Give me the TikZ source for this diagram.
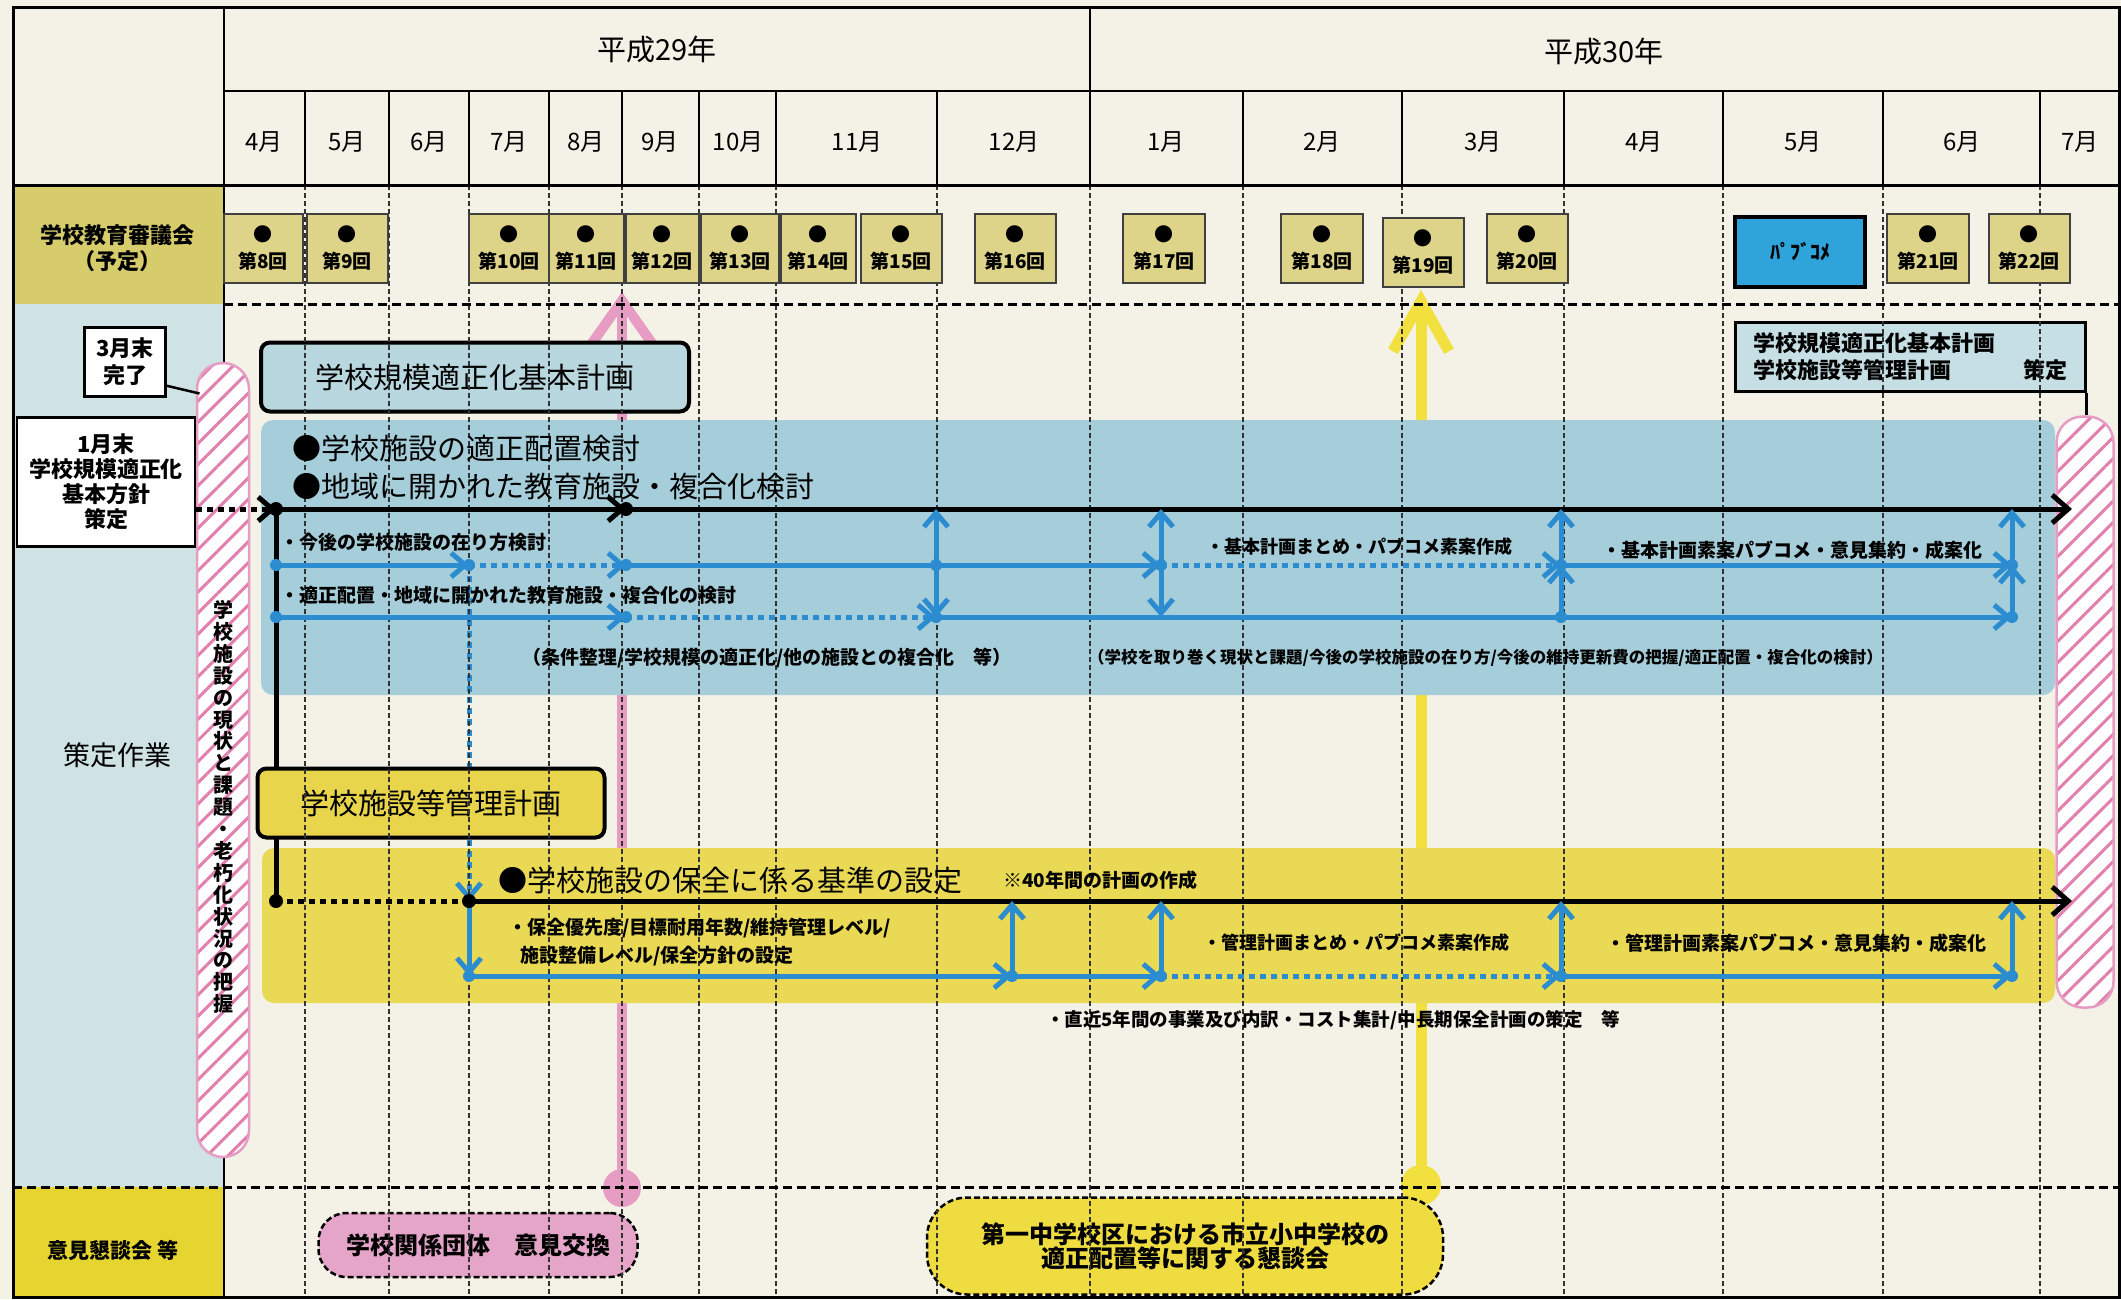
\documentclass[tikz,border=0pt]{standalone}
\usepackage{fontspec}
\setmainfont{Noto Sans CJK JP}
\usepackage{xcolor}
\usetikzlibrary{arrows.meta,patterns.meta}

\definecolor{paper}{HTML}{F4F2E6}
\definecolor{colblue}{HTML}{CFE3E4}
\definecolor{khaki}{HTML}{D7CC6B}
\definecolor{khakibox}{HTML}{DDD489}
\definecolor{bandblue}{HTML}{A6CEDA}
\definecolor{planblue}{HTML}{B8D7DF}
\definecolor{finalblue}{HTML}{C5DFE4}
\definecolor{bandyellow}{HTML}{EAD955}
\definecolor{boxyellow}{HTML}{E8D54C}
\definecolor{cellyellow}{HTML}{E6D530}
\definecolor{meetyellow}{HTML}{EEDC40}
\definecolor{lineblue}{HTML}{2B8CCF}
\definecolor{linepink}{HTML}{E79DC3}
\definecolor{hatchpink}{HTML}{E27FAE}
\definecolor{boxpink}{HTML}{E5A5C9}
\definecolor{lineyellow}{HTML}{F1E03E}
\definecolor{pubblue}{HTML}{2EA4DB}

\newcommand{\fsz}[1]{\fontsize{#1}{#1}\selectfont}

\begin{document}
\begin{tikzpicture}[x=1pt,y=-1pt,
  month/.style={font=\fsz{24}},
  meet/.style={draw=black!75,line width=2pt,fill=khakibox,minimum height=69pt,inner sep=0pt,align=center,font=\bfseries\fontsize{19}{27}\selectfont},
  plan/.style={draw,line width=4pt,rounded corners=9pt,minimum height=69pt,font=\fsz{29}},
  memo/.style={draw,line width=2.5pt,fill=white,align=center,inner sep=0pt},
  talk/.style={draw,line width=2.5pt,dash pattern=on 6pt off 3pt,rounded corners=28pt,inner sep=0pt,align=center,font=\bfseries\fsz{24}},
  hatch/.style={draw=linepink,line width=2.5pt,rounded corners=26pt,inner sep=0pt,preaction={fill=white},pattern={Lines[angle=45,distance=15pt,line width=3pt]},pattern color=hatchpink},
  task/.style={anchor=west,inner sep=0pt,font=\bfseries\fsz{19}},
  goal/.style={anchor=west,inner sep=0pt,font=\fsz{29}},
  blk/.style={line width=5pt,black},
  blu/.style={line width=5pt,lineblue},
  dotseg/.style={dash pattern=on 6pt off 5pt},
  barb/.style={-{Straight Barb[length=14pt,width=24pt]}},
  endbarb/.style={-{Straight Barb[length=16pt,width=28pt]}},
  gridline/.style={line width=1.2pt,black!80,dash pattern=on 5pt off 3pt},
  rowline/.style={line width=3pt,dash pattern=on 9pt off 5pt}
]
\useasboundingbox (0,0) rectangle (2121,1299);
\fill[paper] (0,0) rectangle (2121,1299);
\fill[khaki] (13,185) rectangle (224,304);
\fill[colblue] (13,304) rectangle (224,1187);
\fill[cellyellow] (13,1187) rectangle (224,1297);
\draw[line width=2.5pt] (224,7) -- (224,1297);

\coordinate (pinktop) at (622,292);
\coordinate (pinkfoot) at (622,1188);
\coordinate (yeltop) at (1421,290);
\coordinate (yelfoot) at (1421,1185);
\draw[linepink,line width=10pt,-{Straight Barb[length=44pt,width=62pt]}] (pinkfoot) -- (pinktop);
\fill[linepink] (pinkfoot) circle (19pt);
\draw[lineyellow,line width=11pt,-{Straight Barb[length=50pt,width=56pt]}] (yelfoot) -- (yeltop);
\fill[lineyellow] (yelfoot) circle (20pt);

\fill[bandblue,rounded corners=12pt] (261,420) rectangle (2055,695);
\fill[bandyellow,rounded corners=12pt] (262,848) rectangle (2055,1003);

\foreach \i/\x in {0/276,1/469,2/626,3/936,4/1161,5/1561,6/2012,7/1012}{
  \coordinate (K\i) at (\x,509);
  \coordinate (A\i) at (\x,565);
  \coordinate (B\i) at (\x,617);
  \coordinate (M\i) at (\x,901);
  \coordinate (C\i) at (\x,976);
}
\coordinate (Kend) at (2072,509);
\coordinate (Mend) at (2072,901);

\draw[blk] (K0) -- (M0);
\draw[blu,dotseg,barb] (A1) -- (M1);

\node[plan,fill=planblue,minimum width=428pt] (basic) at (475,377) {学校規模適正化基本計画};
\node[plan,fill=boxyellow,minimum width=347pt] (facility) at (431,803) {学校施設等管理計画};
\node[draw,line width=3pt,fill=finalblue,text width=314pt,inner xsep=18pt,minimum height=69pt,align=left,font=\bfseries\fontsize{22}{27}\selectfont] (final) at (1910,357) {学校規模適正化基本計画\\学校施設等管理計画\hfill 策定};
\node[talk,fill=boxpink,minimum width=319pt,minimum height=64pt] (union) at (478,1245) {学校関係団体　意見交換};
\node[talk,fill=meetyellow,minimum width=516pt,minimum height=97pt,rounded corners=40pt,font=\bfseries\fontsize{24}{23}\selectfont] (forum) at (1185,1246) {第一中学校区における市立小中学校の\\適正配置等に関する懇談会};

\foreach \x in {305,389,469,549,622,699,776,937,1090,1243,1402,1564,1723,1883,2040}{
  \draw[line width=2pt] (\x,91) -- (\x,185);
  \draw[gridline] (\x,185) -- (\x,1297);
}
\draw[line width=2.5pt] (1090,7) -- (1090,91);
\draw[line width=2.5pt] (224,91) -- (2119,91);
\draw[line width=3pt] (13,185) -- (2119,185);
\draw[rowline] (224,304) -- (2119,304);
\draw[rowline] (13,1187) -- (2119,1187);
\draw[line width=3pt] (13,7) rectangle (2119,1297);

\node[font=\fsz{29}] (y29) at (657,50) {平成29年};
\node[font=\fsz{29}] (y30) at (1604,52) {平成30年};
\foreach \x/\m in {264/4,347/5,429/6,509/7,586/8,660/9,738/10,857/11,1014/12,1166/1,1322/2,1483/3,1644/4,1803/5,1962/6,2080/7}
  \node[month] (m\x) at (\x,142) {{\m}月};

\node[align=center,font=\bfseries\fontsize{22}{26}\selectfont] (board) at (117,248) {学校教育審議会\\（予定）};
\foreach \n/\x/\w in {8/263/79,9/347/81,10/509/80,11/586/75,12/662/73,13/740/78,14/818/75,15/901/81,16/1015/81,17/1164/82,18/1322/82,20/1527/81,21/1928/82,22/2029/81}
  \node[meet,minimum width=\w pt] (s\n) at (\x,248) {●\\第{\n}回};
\node[meet,minimum width=81pt] (s19) at (1423,252) {●\\第19回};
\node[meet,fill=pubblue,line width=4pt,draw=black,minimum width=130pt,minimum height=70pt,font=\bfseries\fsz{20}] (pub) at (1800,252) {ﾊﾟﾌﾞｺﾒ};

\node[font=\fsz{27}] (work) at (117,755) {策定作業};
\node[font=\bfseries\fsz{21}] (opinion) at (113,1250) {意見懇談会 等};

\node[hatch,minimum width=52pt,minimum height=794pt] (survey) at (223,760) {};
\node[align=center,font=\bfseries\fontsize{20}{21.9}\selectfont] (surveytext) at (223,807) {学\\校\\施\\設\\の\\現\\状\\と\\課\\題\\・\\老\\朽\\化\\状\\況\\の\\把\\握};
\node[hatch,minimum width=57pt,minimum height=591pt] (fix) at (2085,712) {};
\draw[line width=2.5pt] (final.south east) -- (final.south east |- fix.north);

\node[memo,minimum width=81pt,minimum height=69pt,font=\bfseries\fontsize{22}{27}\selectfont] (done) at (125,362) {3月末\\完了};
\node[memo,minimum width=178pt,minimum height=129pt,font=\bfseries\fontsize{22}{25}\selectfont] (policy) at (106,482) {1月末\\学校規模適正化\\基本方針\\策定};
\draw[line width=2.5pt] ([yshift=12pt]done.south east) -- ([xshift=4pt,yshift=-32pt]survey.north west);

\draw[blk,dotseg,barb] (policy.east |- K0) -- (K0);
\draw[blk,barb] (K0) -- (K2);
\draw[blk,endbarb] (K2) -- (Kend);
\draw[blk,dotseg] (M0) -- (M1);
\draw[blk,endbarb] (M1) -- (Mend);

\draw[blu,barb] (A0) -- (A1);
\draw[blu,dotseg,barb] (A1) -- (A2);
\draw[blu,barb] (A2) -- (A4);
\draw[blu,dotseg,barb] (A4) -- (A5);
\draw[blu,barb] (A5) -- (A6);
\draw[blu,barb] (B0) -- (B2);
\draw[blu,dotseg,barb] (B2) -- (B3);
\draw[blu,barb] (B3) -- (B6);
\foreach \i in {3,4}{
  \draw[blu,barb] (A\i) -- (K\i);
  \draw[blu,barb] (A\i) -- (B\i);
}
\foreach \i in {5,6}{
  \draw[blu,barb] (B\i) -- (A\i);
  \draw[blu,barb] (A\i) -- (K\i);
}
\draw[blu,barb] (M1) -- (C1);
\draw[blu,barb] (C1) -- (C7);
\draw[blu,barb] (C7) -- (C4);
\draw[blu,dotseg,barb] (C4) -- (C5);
\draw[blu,barb] (C5) -- (C6);
\foreach \i in {7,4,5,6} \draw[blu,barb] (C\i) -- (M\i);
\foreach \p in {A0,B0,A1,A2,B2,A3,B3,A4,A5,B5,A6,B6,C1,C7,C4,C5,C6} \fill[lineblue] (\p) circle (6pt);
\foreach \p in {K0,K2,M0,M1} \fill (\p) circle (7pt);

\node[goal] (goal1) at (292,448) {●学校施設の適正配置検討};
\node[goal] (goal2) at (292,487) {●地域に開かれた教育施設・複合化検討};
\node[task] (task1) at (280,542) {・今後の学校施設の在り方検討};
\node[task] (task2) at (280,595) {・適正配置・地域に開かれた教育施設・複合化の検討};
\node[task] (cond1) at (522,658) {（条件整理/学校規模の適正化/他の施設との複合化　等）};
\node[task,font=\bfseries\fsz{16.5}] (cond2) at (1088,658) {（学校を取り巻く現状と課題/今後の学校施設の在り方/今後の維持更新費の把握/適正配置・複合化の検討）};
\node[task,font=\bfseries\fsz{18}] (step1) at (1206,547) {・基本計画まとめ・パブコメ素案作成};
\node[task] (step2) at (1602,550) {・基本計画素案パブコメ・意見集約・成案化};
\node[goal] (goal3) at (498,880) {●学校施設の保全に係る基準の設定};
\node[task] (span) at (1003,880) {※40年間の計画の作成};
\node[task,align=left,font=\bfseries\fontsize{19}{28}\selectfont] (std) at (508,942) {・保全優先度/目標耐用年数/維持管理レベル/\\\hspace*{12pt}施設整備レベル/保全方針の設定};
\node[task,font=\bfseries\fsz{18}] (step3) at (1203,943) {・管理計画まとめ・パブコメ素案作成};
\node[task] (step4) at (1606,943) {・管理計画素案パブコメ・意見集約・成案化};
\node[task,font=\bfseries\fsz{18.5}] (cost) at (1046,1020) {・直近5年間の事業及び内訳・コスト集計/中長期保全計画の策定　等};
\end{tikzpicture}
\end{document}
